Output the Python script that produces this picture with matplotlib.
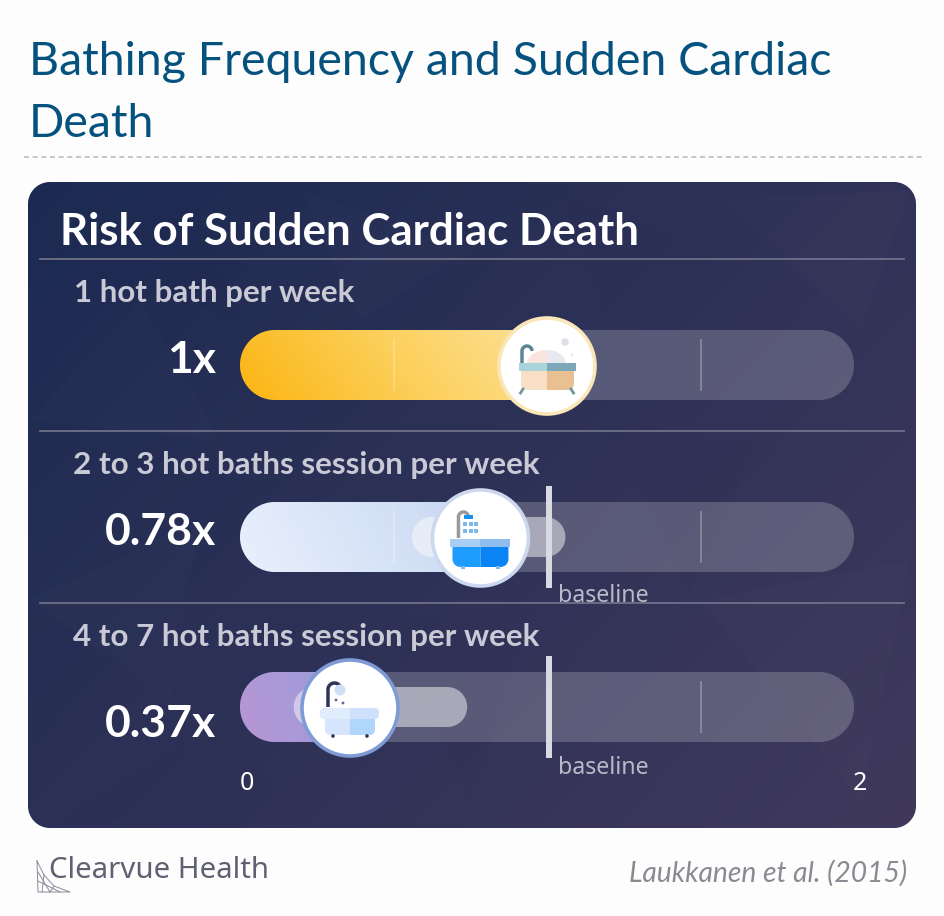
import numpy as np
import matplotlib
matplotlib.use("Agg")
import matplotlib.pyplot as plt
from matplotlib.colors import LinearSegmentedColormap
from matplotlib.patches import Circle, Polygon, Rectangle

title_lines = ["Bathing Frequency and Sudden Cardiac", "Death"]
card_title = "Risk of Sudden Cardiac Death"
groups = ["1 hot bath per week", "2 to 3 hot baths session per week", "4 to 7 hot baths session per week"]
risk = [1.0, 0.78, 0.37]
risk_labels = ["1x", "0.78x", "0.37x"]
ci_low = [None, 0.56, 0.175]
ci_high = [None, 1.06, 0.74]
baseline = 1.006
axis_min, axis_max = 0, 2
grid_ticks = [0.5, 1.5]

plt.rcParams["font.family"] = ["Lato", "DejaVu Sans"]

fig = plt.figure(figsize=(9.44, 9.16), dpi=100, facecolor="#fdfdfd")
ax = fig.add_axes([0, 0, 1, 1])
ax.axis("off")


# axis scale of the bars, in picture pixels
def xs(v):
    return 240 + (v - axis_min) * (854 - 240) / (axis_max - axis_min)


def pill(x0, y0, x1, y1, r, **kw):
    corners = [(x1 - r, y0 + r, -90), (x1 - r, y1 - r, 0), (x0 + r, y1 - r, 90), (x0 + r, y0 + r, 180)]
    pts = []
    for cx, cy, a in corners:
        t = np.radians(np.linspace(a, a + 90, 24))
        pts += list(zip(cx + r * np.cos(t), cy + r * np.sin(t)))
    p = Polygon(pts, closed=True, **kw)
    ax.add_patch(p)
    return p


def gradient(patch, box, c0, c1, c2=None, angle=0.4):
    x0, y0, x1, y1 = box
    w, h = int(x1 - x0), int(y1 - y0)
    xx, yy = np.meshgrid(np.linspace(0, 1, w), np.linspace(1, 0, h))
    t = xx + angle * yy
    t = (t - t.min()) / (t.max() - t.min())
    colors = [c0, c1] if c2 is None else [c0, c2, c1]
    cmap = LinearSegmentedColormap.from_list("g", colors)
    im = ax.imshow(t, cmap=cmap, extent=(x0, x1, y1, y0), aspect="auto",
                   zorder=patch.get_zorder(), interpolation="bilinear")
    im.set_clip_path(patch)


# card with its gradient
card = pill(28, 182, 916, 828, 22, fc="none", ec="none", zorder=1)
gradient(card, (28, 182, 916, 828), "#1c2a52", "#40395c", angle=-0.7)

# faint low-poly texture of the card
shards = [
    [(40, 260), (190, 190), (240, 320)], [(30, 420), (140, 300), (220, 440)],
    [(560, 190), (720, 260), (610, 320)], [(730, 200), (910, 190), (860, 330)],
    [(600, 420), (760, 440), (690, 590)], [(30, 600), (200, 520), (170, 700)],
    [(380, 620), (540, 600), (470, 800)], [(700, 600), (910, 560), (860, 800)],
    [(60, 820), (230, 720), (300, 825)], [(300, 190), (470, 250), (360, 320)],
]
for i, s in enumerate(shards):
    shard = Polygon(s, fc="white" if i % 2 else "#10204a", alpha=0.01, ec="none", zorder=1.1)
    ax.add_patch(shard)
    shard.set_clip_path(card)

# header
ax.text(29, 62, title_lines[0], fontsize=33.5, color="#05527f", va="center", ha="left")
ax.text(29, 124, title_lines[1], fontsize=33.5, color="#05527f", va="center", ha="left")
ax.plot([24, 922], [157, 157], color="#bdbdbd", lw=1.2, ls=(0, (3, 2.2)), zorder=2)
ax.text(60, 232, card_title, fontsize=31.6, fontweight="bold", color="white", va="center", zorder=5)

rows_top = [330, 502, 672]
label_y = [293, 465, 637]
value_y = [360, 532, 724]
baseline_y = [None, 596, 768]
sep_y = [259, 431, 603]
for y in sep_y:
    ax.plot([40, 904], [y, y], color="#6f7088", lw=1.3, zorder=2)

fills = [("#fbb512", "#fde3a0", "#fcd05c"), ("#e8f0fc", "#c6d5ef", "#d7e3f7"), ("#b896d6", "#8d9fdb", "#a59ad8")]
rings = ["#fbe6b8", "#ccd8ed", "#7f9bd6"]
marker_shift = [0, 1, -3.6]


def half_body(cx, xo, ytop, ybot, r, color):
    # one half of the tub, only its outer bottom corner is round
    s = np.sign(xo)
    t = np.radians(np.linspace(0, 90, 12))
    ax_pts = [(cx, ytop), (cx + xo, ytop)]
    ax_pts += list(zip(cx + xo - s * r + s * r * np.cos(t), ybot - r + r * np.sin(t)))
    ax_pts += [(cx, ybot)]
    ax.add_patch(Polygon(ax_pts, closed=True, fc=color, ec="none", zorder=8))


def bath_common(cx, cy, rim, body, rim_c, body_c, r=6):
    ax.add_patch(Rectangle((cx + rim[0], cy + rim[2]), -rim[0], rim[3] - rim[2], fc=rim_c[0], ec="none", zorder=9))
    ax.add_patch(Rectangle((cx, cy + rim[2]), rim[1], rim[3] - rim[2], fc=rim_c[1], ec="none", zorder=9))
    half_body(cx, body[0], cy + body[2], cy + body[3], r, body_c[0])
    half_body(cx, body[1], cy + body[2], cy + body[3], r, body_c[1])


def faucet(cx, cy, xl, xr, ybase, ytop, color, lw=2.5):
    t = np.linspace(np.pi, 0, 24)
    r = (xr - xl) / 2
    x = np.r_[cx + xl, cx + xl + r + r * np.cos(t)]
    y = np.r_[cy + ybase, cy + ytop + r - r * np.sin(t)]
    ax.plot(x, y, color=color, lw=lw, solid_capstyle="butt", zorder=9)


def foam(cx, cy, xo, h, color):
    t = np.radians(np.linspace(0, 90, 20))
    pts = [(cx, cy)] + list(zip(cx + xo * np.cos(t), cy - h * np.sin(t)))
    ax.add_patch(Polygon(pts, closed=True, fc=color, ec="none", zorder=8))


def icon_tub(cx, cy):
    foam(cx, cy - 2, -20, 14, "#f9e3de")
    foam(cx, cy - 2, 19, 14, "#e8e9ee")
    ax.add_patch(Circle((cx + 18, cy - 24), 3.8, fc="#dde1e7", ec="none", zorder=9))
    ax.add_patch(Circle((cx + 25, cy - 11), 1.3, fc="#e3e6ea", ec="none", zorder=9))
    bath_common(cx, cy, (-28, 29, -3, 5), (-26, 27, 5, 24), ("#a9d4da", "#7ea8ba"), ("#f8dfc5", "#e9c092"))
    faucet(cx, cy, -25, -15, -3, -20, "#5f8593")
    for dx, sgn in ((-24, -1), (24, 1)):
        ax.plot([cx + dx, cx + dx + sgn * 2.5], [cy + 23, cy + 27], color="#6f95a3", lw=2, zorder=8)


def icon_shower(cx, cy):
    faucet(cx, cy, -22, -12, 0, -26, "#9a9a9c")
    ax.add_patch(Rectangle((cx - 16, cy - 23), 9, 4, fc="#1790f0", ec="none", zorder=9))
    for dx in (-17, -11, -6):
        for dy in (-14, -7):
            ax.add_patch(Rectangle((cx + dx, cy + dy - 2), 3.6, 3.6, fc="#7db8ea", ec="none", zorder=9))
    bath_common(cx, cy, (-30, 30, 1, 9), (-28, 28, 9, 29), ("#a9cdf5", "#8fbdf0"), ("#1f9dff", "#0a84f5"), r=8)
    for dx in (-19, 16):
        ax.add_patch(Rectangle((cx + dx, cy + 28), 4, 2.5, fc="#7db8ea", ec="none", zorder=8))


def icon_clawfoot(cx, cy):
    faucet(cx, cy, -22, -9, -1, -25, "#2e3358")
    ax.add_patch(Circle((cx - 10, cy - 18), 5.5, fc="#cfdff5", ec="none", zorder=9))
    ax.add_patch(Circle((cx - 14, cy - 8), 1.4, fc="#5b6791", ec="none", zorder=9))
    ax.add_patch(Circle((cx - 7, cy - 5), 1.4, fc="#5b6791", ec="none", zorder=9))
    pill(cx - 30, cy, cx, cy + 11, 4, fc="#e0ebfb", ec="none", zorder=9)
    pill(cx - 4, cy, cx + 29, cy + 11, 4, fc="#cfe1fa", ec="none", zorder=9)
    ax.add_patch(Rectangle((cx - 6, cy), 6, 11, fc="#e0ebfb", ec="none", zorder=9))
    bath_common(cx, cy, (0, 0, 0, 0), (-25, 25, 11, 27), ("#e0ebfb", "#cfe1fa"), ("#d6e5fb", "#b0d6fb"), r=5)
    for dx in (-17, 17):
        ax.add_patch(Circle((cx + dx, cy + 28), 1.8, fc="#2e3358", ec="none", zorder=9))


icons = [icon_tub, icon_shower, icon_clawfoot]

for i, v in enumerate(risk):
    top = rows_top[i]
    bot = top + 70
    mid = top + 35
    ax.text(74 if i == 0 else 73, label_y[i], groups[i], fontsize=22.6, fontweight="bold", color="#c9cad6", va="center", zorder=5)
    ax.text(216, value_y[i], risk_labels[i], fontsize=32, fontweight="bold", color="white", va="center", ha="right", zorder=5)

    # track, value fill and grid ticks
    pill(xs(axis_min), top, xs(axis_max), bot, 35, fc="#ffffff", alpha=0.2, ec="none", zorder=3)
    fill = pill(xs(axis_min), top, xs(v) + 20, bot, 35, fc="none", ec="none", zorder=3.2)
    c0, c1, c2 = fills[i]
    gradient(fill, (xs(axis_min), top, xs(v) + 20, bot), c0, c1, c2, angle=0.15)
    for t in grid_ticks:
        # the low tick does not show in the last row
        if i == 2 and t == grid_ticks[0]:
            continue
        ax.plot([xs(t), xs(t)], [top + 10, bot - 10], color="white", alpha=0.3, lw=1.2, zorder=3.5)

    # confidence range
    if ci_low[i] is not None:
        pill(xs(ci_low[i]), mid - 20, xs(ci_high[i]), mid + 20, 20, fc="white", alpha=0.48, ec="none", zorder=4)
        ax.plot([xs(baseline), xs(baseline)], [top - 16, bot + 16], color="#d9dae4", lw=4.3,
                solid_capstyle="butt", zorder=5)
        ax.text(558, baseline_y[i], "baseline", fontsize=16.7, color="#b9bac9", va="center", zorder=5, family="Noto Sans")

    # marker with the bath icon
    cx = xs(v) + marker_shift[i]
    cy = mid + 1
    ax.add_patch(Circle((cx, cy), 48, fc="white", ec=rings[i], lw=2.6, zorder=7))
    icons[i](cx, cy)

ax.text(xs(axis_min) + 7, 783, str(axis_min), fontsize=18, color="white", ha="center", va="center", zorder=5, family="Noto Sans")
ax.text(xs(axis_max) + 6, 783, str(axis_max), fontsize=18, color="white", ha="center", va="center", zorder=5, family="Noto Sans")

# footer
ax.text(49, 871, "Clearvue Health", fontsize=21.2, color="#5f6172", va="center", family="Noto Sans")
ax.text(907, 873, "Laukkanen et al. (2015)", fontsize=20.3, style="italic", color="#8a8a92", va="center", ha="right")
web = [[(37, 861), (38, 892), (70, 892), (54, 886), (44, 875), (37, 861)], [(38, 872), (50, 892)], [(38, 881), (60, 892)],
       [(44, 875), (42, 892)], [(54, 886), (50, 892)]]
for line in web:
    px, py = zip(*line)
    ax.plot(px, py, color="#8a8b9c", lw=0.7, zorder=2)

ax.set_xlim(0, 944)
ax.set_ylim(916, 0)
fig.savefig("out.png", dpi=100, facecolor=fig.get_facecolor())
